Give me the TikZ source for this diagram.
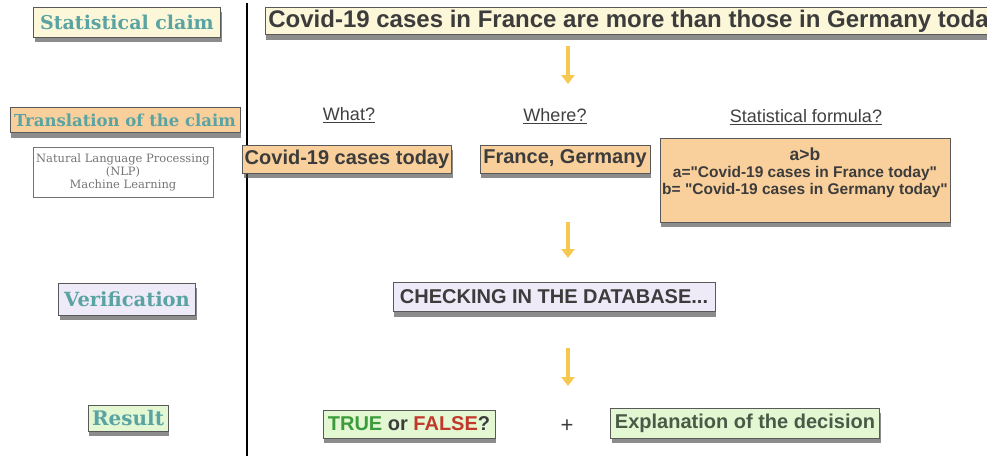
\documentclass[tikz,border=0pt]{standalone}
\usepackage{fontspec}
\setmainfont{Liberation Sans}
\newfontfamily\slabfont{DejaVu Serif}
\usepackage{xcolor}
\usepackage{tikz}
\usetikzlibrary{shadows}
\usetikzlibrary{positioning, arrows.meta}

\definecolor{claimfill}{HTML}{FBF7D8}
\definecolor{orangefill}{HTML}{F9D09C}
\definecolor{checkfill}{HTML}{EEEAF8}
\definecolor{resultfill}{HTML}{E3F7D2}
\definecolor{tealtxt}{HTML}{5AA3A3}
\definecolor{darktxt}{HTML}{3C3C3C}
\definecolor{arrowyel}{HTML}{F7C850}
\definecolor{truegreen}{HTML}{3C9C3C}
\definecolor{falsered}{HTML}{C0392B}
\definecolor{expltxt}{HTML}{4A5A48}

\newcommand{\fsz}[2]{\fontsize{#1}{#2}\selectfont}

\begin{document}
\begin{tikzpicture}[
    x=1pt, y=-1pt,
    boxshadow/.style={drop shadow={shadow xshift=1pt, shadow yshift=-5pt, opacity=0.6, fill=black!75}},
    stage/.style={draw=black!65, line width=0.8pt, inner sep=1pt, font=\slabfont\bfseries\fsz{#1}{#1}, text=tealtxt, boxshadow},
    keybox/.style={draw=black!65, line width=0.8pt, inner sep=2pt, font=\bfseries\fsz{20}{20}, text=darktxt, boxshadow},
    question/.style={font=\fsz{18}{18}, text=black!75},
    flow/.style={draw=arrowyel, line width=3.5pt, -{Triangle[width=13pt, length=9pt]}}
]
    \useasboundingbox (0,0) rectangle (987,456);
    \clip (0,0) rectangle (987,456);

    % Left column: the stages
    \node[stage=19, fill=claimfill, minimum width=187, minimum height=30] (claim) at (127,22) {Statistical claim};
    \node[stage=16.5, fill=orangefill, minimum width=230, minimum height=25] (transl) at (125,120) {Translation of the claim};
    \node[draw=black!55, line width=0.6pt, minimum width=180, minimum height=50, align=center,
          font=\slabfont\fsz{11.5}{13}, text=black!55] (nlp) at (123,172) {Natural Language Processing\\(NLP)\\Machine Learning};
    \node[stage=19.5, fill=checkfill, minimum width=137, minimum height=32] (verif) at (127,299) {Verification};
    \node[stage=20, fill=resultfill, minimum width=80, minimum height=26] (result) at (128,418) {Result};

    % Separator
    \coordinate (septop) at (247,3);
    \coordinate (sepbot) at (247,456);
    \draw[line width=2pt] (septop) -- (sepbot);

    % The claim
    \node[keybox, fill=claimfill, anchor=west, minimum height=27, inner xsep=3pt, font=\bfseries\fsz{24}{24}] (claimtxt) at (265,21)
        {Covid-19 cases in France are more than those in Germany today};
    \coordinate (flow1s) at (568,46);
    \coordinate (flow1e) at (568,84);
    \draw[flow] (flow1s) -- (flow1e);

    % Translation
    \node[question] (what) at (349,115) {\underline{What?}};
    \node[question] (where) at (555,116) {\underline{Where?}};
    \node[question] (stat) at (806,117) {\underline{Statistical formula?}};

    \node[keybox, fill=orangefill, minimum width=209, minimum height=28] (whatbox) at (347,159) {Covid-19 cases today};
    \node[keybox, fill=orangefill, minimum width=170, minimum height=28] (wherebox) at (565,159) {France, Germany};
    \node[keybox, fill=orangefill, minimum width=290, minimum height=84] (formula) at (805,180) {};
    \node[anchor=north, inner sep=0pt, align=center, font=\bfseries\fsz{15.5}{17}, text=darktxt] (formulatxt)
        at ([yshift=-10pt]formula.north) {{\fsz{17.5}{18}a>b}\\a=\textquotedbl Covid-19 cases in France today\textquotedbl\\b= \textquotedbl Covid-19 cases in Germany today\textquotedbl};

    \coordinate (flow2s) at (568,222);
    \coordinate (flow2e) at (568,258);
    \draw[flow] (flow2s) -- (flow2e);

    % Verification
    \node[keybox, fill=checkfill, minimum width=322, minimum height=29] (check) at (554,297) {CHECKING IN THE DATABASE...};

    \coordinate (flow3s) at (568,348);
    \coordinate (flow3e) at (568,386);
    \draw[flow] (flow3s) -- (flow3e);

    % Result
    \node[keybox, fill=resultfill, minimum width=172, minimum height=28] (verdict) at (409,424)
        {{\color{truegreen}TRUE} or {\color{falsered}FALSE}?};
    \node[font=\fsz{22}{22}, text=darktxt] (plus) at (567,426) {+};
    \node[keybox, fill=resultfill, minimum width=269, minimum height=30, text=expltxt] (explain) at (745,423) {Explanation of the decision};
\end{tikzpicture}
\end{document}
